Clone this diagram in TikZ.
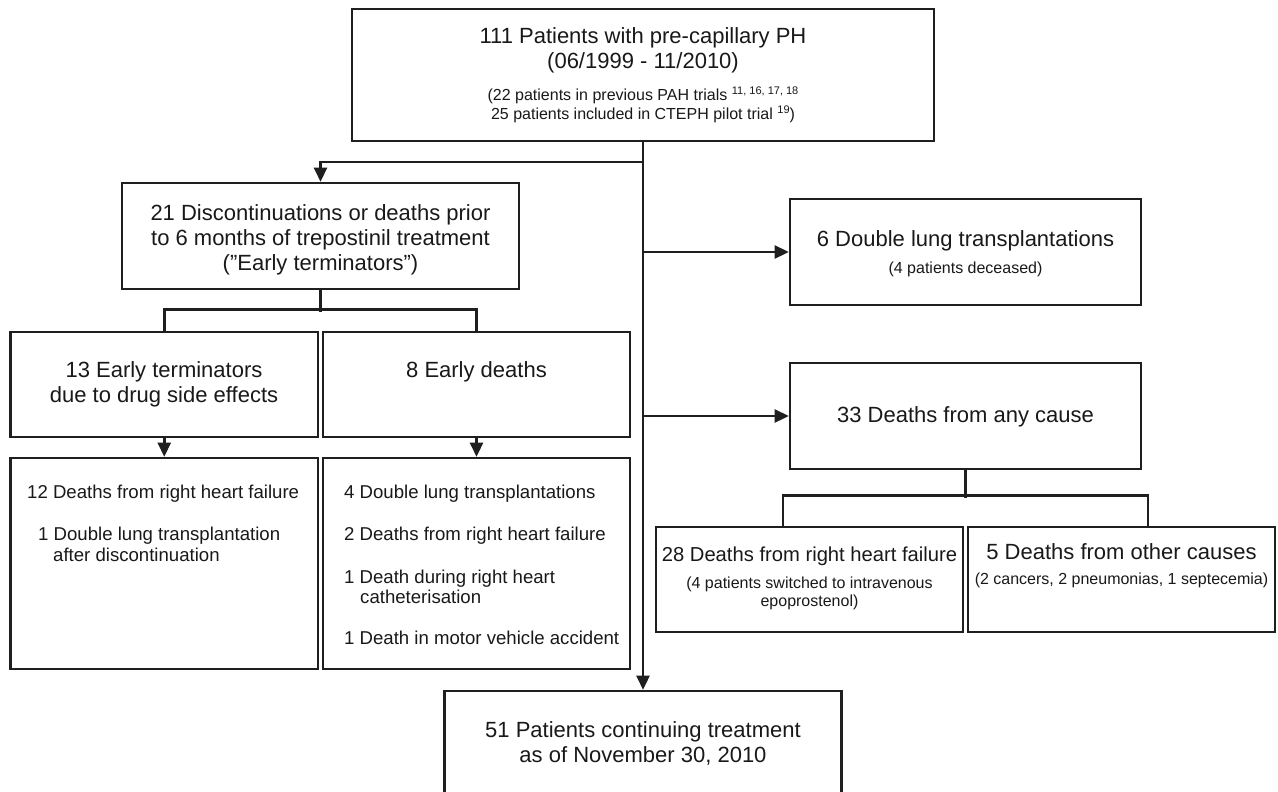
\documentclass[tikz,border=0pt]{standalone}
\usepackage{fontspec}
\setmainfont{Liberation Sans}
\usetikzlibrary{arrows.meta,calc}
\newcommand\szA{\fontsize{22}{26}\selectfont}
\newcommand\szB{\fontsize{16}{19}\selectfont}
\newcommand\szL{\fontsize{18.6}{22}\selectfont}
\newcommand\szS{\fontsize{11}{12}\selectfont}
\newcommand\szC{\fontsize{20.2}{24}\selectfont}
\newcommand\supr[1]{\raisebox{6pt}{\szS #1}}
\begin{document}
\begin{tikzpicture}[x=1pt,y=-1pt,
  box/.style={draw=black!88, line width=2.6pt, rectangle, inner sep=0pt},
  txt/.style={inner sep=0pt, anchor=base, text=black!90},
  txl/.style={inner sep=0pt, anchor=base west, text=black!90},
  ln/.style={draw=black!88, line width=2.6pt},
  arr/.style={draw=black!88, line width=2.6pt, -{Triangle[length=14pt,width=13pt]}}]
\useasboundingbox[fill=white] (0,0) rectangle (1278,792);
% boxes
\node[box, minimum width=582pt, minimum height=132pt] (top) at (643,75) {};
\node[box, minimum width=397pt, minimum height=106pt] (disc) at (320.5,236) {};
\node[box, minimum width=307.5pt, minimum height=105pt] (et) at (164.25,384.5) {};
\node[box, minimum width=307pt, minimum height=105pt] (ed) at (476.5,384.5) {};
\node[box, minimum width=307.5pt, minimum height=211pt] (etl) at (164.25,563.5) {};
\node[box, minimum width=307pt, minimum height=211pt] (edl) at (476.5,563.5) {};
\node[box, minimum width=397pt, minimum height=112pt] (cont) at (643,747) {};
\node[box, minimum width=351pt, minimum height=106pt] (dl) at (965.5,252) {};
\node[box, minimum width=351pt, minimum height=106pt] (dth) at (965.5,416) {};
\node[box, minimum width=307pt, minimum height=105pt] (d28) at (809.5,579.5) {};
\node[box, minimum width=307pt, minimum height=105pt] (d5) at (1121.5,579.5) {};
% connectors
\coordinate (j1) at (643,162);
\draw[arr] (top.south) -- (top.south |- cont.north);
\draw[arr] (j1) -| (disc.north);
\draw[arr] (top.south |- dl.west) -- (dl.west);
\draw[arr] (top.south |- dth.west) -- (dth.west);
\draw[ln] (disc.south) -- ++(0,22);
\draw[ln] (et.north) -- ++(0,-21) -| (ed.north);
\draw[arr] (et.south) -- (etl.north);
\draw[arr] (ed.south) -- (edl.north);
\draw[ln] (dth.south) -- ++(0,28);
\draw[ln] ([xshift=-26.5pt]d28.north) -- ++(0,-30) -| ([xshift=26.5pt]d5.north);
% texts
\node[txt] (t1) at (643,44) {\szA 111 Patients with pre-capillary PH};
\node[txt] (t2) at (643,69) {\szA (06/1999 - 11/2010)};
\node[txt] (t3) at (643,101) {\szB (22 patients in previous PAH trials \supr{11, 16, 17, 18}};
\node[txt] (t4) at (643,120) {\szB 25 patients included in CTEPH pilot trial \supr{19})};
\node[txt] (dc1) at (320.5,220) {\szA 21 Discontinuations or deaths prior};
\node[txt] (dc2) at (320.5,245) {\szA to 6 months of trepostinil treatment};
\node[txt] (dc3) at (320.5,270) {\szA (”Early terminators”)};
\node[txt] (et1) at (164,377) {\szA 13 Early terminators};
\node[txt] (et2) at (164,402) {\szA due to drug side effects};
\node[txt] (ed1) at (476.5,377) {\szA 8 Early deaths};
\node[txl] (l1) at (27,498) {\szL 12 Deaths from right heart failure};
\node[txl] (l2) at (38,540) {\szL 1 Double lung transplantation};
\node[txl] (l3) at (53,561) {\szL after discontinuation};
\node[txl] (m1) at (344,498) {\szL 4 Double lung transplantations};
\node[txl] (m2) at (344,540) {\szL 2 Deaths from right heart failure};
\node[txl] (m3) at (344,583) {\szL 1 Death during right heart};
\node[txl] (m4) at (360,603) {\szL catheterisation};
\node[txl] (m5) at (344,644) {\szL 1 Death in motor vehicle accident};
\node[txt] (c1) at (643,737) {\szA 51 Patients continuing treatment};
\node[txt] (c2) at (643,762) {\szA as of November 30, 2010};
\node[txt] (dl1) at (965.5,246) {\szA 6 Double lung transplantations};
\node[txt] (dl2) at (965.5,273) {\szB (4 patients deceased)};
\node[txt] (dt1) at (965.5,422) {\szA 33 Deaths from any cause};
\node[txt] (r1) at (809.5,561) {\szC 28 Deaths from right heart failure};
\node[txt] (r2) at (809.5,588) {\szB (4 patients switched to intravenous};
\node[txt] (r3) at (809.5,606) {\szB epoprostenol)};
\node[txt] (o1) at (1121.5,559) {\szA 5 Deaths from other causes};
\node[txt] (o2) at (1121.5,584) {\szB (2 cancers, 2 pneumonias, 1 septecemia)};
\end{tikzpicture}
\end{document}
